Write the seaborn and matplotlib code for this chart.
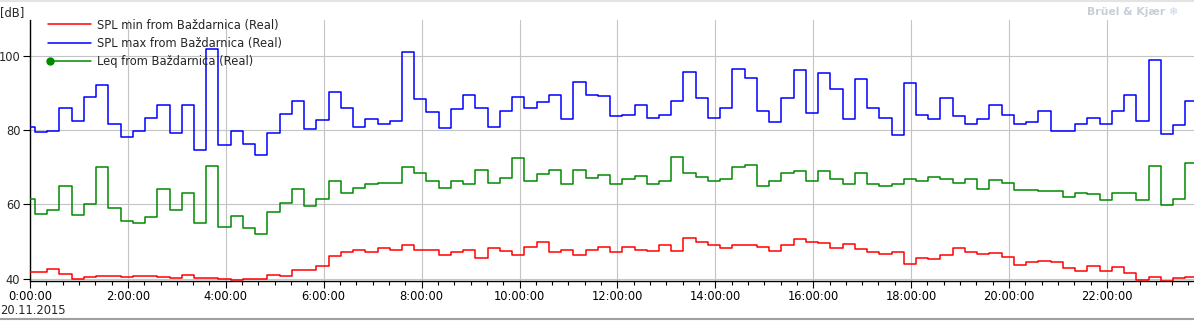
import numpy as np
import pandas as pd
import matplotlib
matplotlib.use("Agg")
import matplotlib.pyplot as plt
import seaborn as sns
from matplotlib.lines import Line2D
from matplotlib.legend_handler import HandlerLine2D
from matplotlib.ticker import FixedLocator, MultipleLocator

# ---------------- data ----------------
# start time (hours after 20.11.2015 0:00) of each 15-minute interval
interval_start_h = [-0.15 + 0.25 * k for k in range(96)]

spl_max = [80.9, 79.4, 79.7, 85.9, 82.4, 88.9, 92.3, 81.6, 78.3, 79.8,
           83.2, 86.9, 79.2, 86.8, 74.6, 101.8, 75.9, 79.8, 76.3, 73.2,
           79.2, 84.5, 87.8, 80.2, 82.7, 90.4, 85.9, 80.8, 82.9, 81.6,
           82.5, 101.2, 88.3, 84.9, 80.5, 85.6, 89.4, 85.9, 80.8, 85.1,
           89.0, 85.9, 87.6, 89.4, 82.9, 92.9, 89.6, 89.1, 83.7, 84.0,
           86.9, 83.4, 84.2, 88.0, 95.8, 88.8, 83.4, 86.1, 96.4, 94.2,
           85.3, 82.1, 88.6, 96.1, 84.6, 95.3, 91.0, 82.9, 93.9, 86.1,
           83.4, 78.6, 92.6, 84.0, 82.9, 88.6, 83.7, 81.8, 82.9, 86.7,
           84.0, 81.6, 82.2, 85.1, 79.8, 79.8, 81.8, 83.2, 81.6, 85.3,
           89.6, 82.4, 98.8, 78.9, 81.3, 88.0]

leq = [61.6, 57.3, 58.4, 65.1, 57.1, 60.0, 70.0, 59.0, 55.5, 55.1,
       56.5, 64.1, 58.4, 63.0, 54.9, 70.3, 53.8, 56.8, 53.6, 52.0,
       57.9, 60.3, 64.1, 59.7, 61.6, 66.2, 63.2, 64.3, 65.6, 65.9,
       65.9, 70.0, 68.6, 66.2, 64.3, 66.2, 65.6, 69.4, 65.9, 67.0,
       72.4, 66.2, 68.1, 69.4, 65.6, 69.4, 67.0, 67.8, 65.4, 66.8,
       67.6, 65.4, 66.2, 72.7, 68.4, 67.3, 66.2, 66.8, 70.0, 70.5,
       65.1, 66.2, 68.4, 68.9, 66.2, 68.9, 66.8, 65.4, 68.6, 65.6,
       65.1, 65.4, 66.8, 66.2, 67.3, 66.8, 65.9, 66.8, 64.1, 66.5,
       65.9, 63.8, 63.8, 63.5, 63.5, 61.9, 63.0, 62.7, 61.1, 63.0,
       63.0, 61.1, 70.3, 59.8, 61.6, 71.1]

spl_min = [41.7, 41.7, 42.5, 41.2, 39.8, 40.4, 40.8, 40.8, 40.4, 40.6,
           40.6, 40.4, 40.1, 40.9, 40.1, 40.1, 39.8, 39.6, 39.8, 39.8,
           40.9, 40.6, 42.3, 42.3, 43.3, 46.0, 47.1, 47.6, 47.1, 48.2,
           47.6, 49.0, 47.6, 47.6, 46.3, 47.1, 47.6, 45.5, 48.2, 47.4,
           46.3, 48.5, 49.8, 47.1, 47.6, 46.3, 47.6, 48.5, 47.1, 48.5,
           47.6, 47.4, 49.0, 47.4, 50.9, 49.8, 49.0, 48.2, 49.0, 49.0,
           48.5, 47.4, 49.0, 50.6, 49.8, 49.5, 48.2, 49.3, 47.9, 47.1,
           46.6, 47.1, 43.9, 45.5, 45.2, 46.3, 48.2, 47.1, 46.6, 46.8,
           45.8, 43.6, 44.4, 44.7, 44.4, 42.8, 42.0, 43.3, 42.0, 43.1,
           41.5, 39.6, 40.4, 39.3, 40.1, 40.4]

series_labels = ["SPL min from Baždarnica (Real)",
                 "SPL max from Baždarnica (Real)",
                 "Leq from Baždarnica (Real)"]
series_colors = ["#ff0000", "#0000ff", "#008a00"]

x_tick_hours = [0, 2, 4, 6, 8, 10, 12, 14, 16, 18, 20, 22]
x_tick_labels = ["0:00:00", "2:00:00", "4:00:00", "6:00:00", "8:00:00",
                 "10:00:00", "12:00:00", "14:00:00", "16:00:00", "18:00:00",
                 "20:00:00", "22:00:00"]
y_ticks = [40, 60, 80, 100]
date_label = "20.11.2015"
unit_label = "[dB]"

# ---------------- figure ----------------
sns.set_style("white")
plt.rcParams["font.family"] = ["DejaVu Sans"]
FS = 8.3

W, H = 1194, 321
fig = plt.figure(figsize=(W / 100, H / 100), dpi=100)
ax_left, ax_top, ax_bottom = 30, 20, 280.7
ax = fig.add_axes([ax_left / W, 1 - ax_bottom / H, (W - ax_left) / W, (ax_bottom - ax_top) / H])

x_end = 24.0  # repeat the last reading so the last step is drawn to the edge
for vals, lab, col in zip([spl_min, spl_max, leq], series_labels, series_colors):
    df = pd.DataFrame({"t": interval_start_h + [x_end], "v": vals + [vals[-1]]})
    sns.lineplot(data=df, x="t", y="v", ax=ax, color=col, linewidth=1.1,
                 drawstyle="steps-post", legend=False, zorder=3)

ax.set_xlim(0, (W - ax_left) / 48.95)
ax.set_ylim(39.45, 109.7)
ax.set_xlabel("")
ax.set_ylabel("")

ax.xaxis.set_major_locator(FixedLocator(x_tick_hours))
ax.set_xticklabels(x_tick_labels)
ax.xaxis.set_minor_locator(MultipleLocator(1 / 3))
ax.set_yticks(y_ticks)
ax.set_yticklabels([str(v) for v in y_ticks])

ax.grid(True, which="major", color="#c4c4c4", linewidth=0.8, zorder=0)
for s in ["top", "right"]:
    ax.spines[s].set_visible(False)
for s in ["left", "bottom"]:
    ax.spines[s].set_color("black")
    ax.spines[s].set_linewidth(1.0)

ax.tick_params(axis="x", which="major", direction="out", length=5, width=0.8,
               color="black", labelsize=FS, pad=2, labelcolor="#000000")
ax.tick_params(axis="x", which="minor", direction="out", length=3, width=0.8,
               color="black")
ax.tick_params(axis="y", which="major", direction="out", length=5, width=0.8,
               color="black", labelsize=FS, pad=2)
ax.tick_params(left=True, bottom=True)
ax.tick_params(axis="x", which="minor", bottom=True)


class LeftMarkerHandler(HandlerLine2D):
    """Legend line with a single marker at its left end."""
    def create_artists(self, legend, orig_handle, xdescent, ydescent,
                       width, height, fontsize, trans):
        y = (height - ydescent) / 2
        x0, x1 = -xdescent, -xdescent + width
        line = Line2D([x0, x1], [y, y])
        self.update_prop(line, orig_handle, legend)
        line.set_marker("None")
        line.set_transform(trans)
        mk = Line2D([x0 + 1.5], [y])
        self.update_prop(mk, orig_handle, legend)
        mk.set_linestyle("None")
        mk.set_transform(trans)
        return [line, mk]


handles = [Line2D([], [], color=series_colors[0], lw=1.1),
           Line2D([], [], color=series_colors[1], lw=1.1),
           Line2D([], [], color=series_colors[2], lw=1.1, marker="o", markersize=5)]
leg = ax.legend(handles, series_labels, loc="upper left",
                bbox_to_anchor=(48 / W, 1 - 18.5 / H), bbox_transform=fig.transFigure,
                frameon=False, fontsize=FS, handlelength=3.7, handletextpad=0.55,
                labelspacing=0.45, borderpad=0, borderaxespad=0,
                handler_map={handles[2]: LeftMarkerHandler()})

fig.text(0 / W, 1 - 12.5 / H, unit_label, fontsize=FS, ha="left", va="center")
fig.text(0 / W, 1 - 310 / H, date_label, fontsize=FS, ha="left", va="center")
fig.text(1087 / W, 1 - 12 / H, "Brüel & Kjær", fontsize=7.8, fontweight="bold",
         color="#c9ced6", ha="left", va="center")
fig.text(1168 / W, 1 - 12 / H, "❄", fontsize=8, color="#c3d6ee", ha="left", va="center")

fig.add_artist(Line2D([0, 1], [1 - 319 / H, 1 - 319 / H], transform=fig.transFigure,
                      color="#a0a0a0", lw=1.5))
fig.add_artist(Line2D([0, 1], [1 - 1 / H, 1 - 1 / H], transform=fig.transFigure,
                      color="#e4e4e4", lw=1.5))

fig.savefig("out.png", dpi=100)
